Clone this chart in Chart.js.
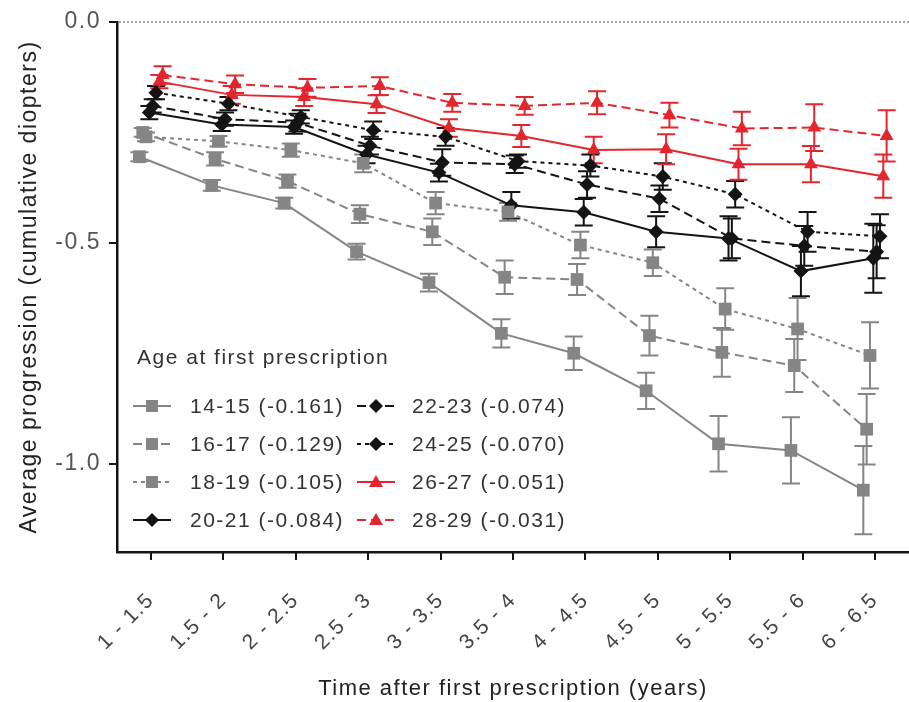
<!DOCTYPE html>
<html><head><meta charset="utf-8">
<script src="https://cdn.jsdelivr.net/npm/chart.js@4"></script>
<style>html,body{margin:0;padding:0;background:#fff;overflow:hidden}</style>
</head><body>
<canvas id="c" width="909" height="702"></canvas>
<script>
// ---------- data ----------
const xLabels = ['1 - 1.5','1.5 - 2','2 - 2.5','2.5 - 3','3 - 3.5','3.5 - 4','4 - 4.5','4.5 - 5','5 - 5.5','5.5 - 6','6 - 6.5'];
const ageGroups = ['14-15','16-17','18-19','20-21','22-23','24-25','26-27','28-29'];
const slopes = ['-0.161','-0.129','-0.105','-0.084','-0.074','-0.070','-0.051','-0.031'];
const yTicks = [-1.0, -0.5, 0.0];

const age14_15 = [-0.305, -0.37, -0.41, -0.52, -0.59, -0.705, -0.75, -0.835, -0.955, -0.97, -1.06];
const err14_15 = [0.01, 0.012, 0.012, 0.018, 0.02, 0.032, 0.038, 0.041, 0.063, 0.075, 0.10];
const age16_17 = [-0.25, -0.31, -0.36, -0.435, -0.475, -0.578, -0.583, -0.71, -0.748, -0.778, -0.922];
const err16_17 = [0.01, 0.015, 0.015, 0.02, 0.03, 0.038, 0.035, 0.045, 0.055, 0.06, 0.08];
const age18_19 = [-0.26, -0.27, -0.29, -0.32, -0.41, -0.43, -0.505, -0.545, -0.65, -0.695, -0.755];
const err18_19 = [0.01, 0.012, 0.015, 0.02, 0.025, 0.02, 0.03, 0.03, 0.047, 0.07, 0.075];
const age20_21 = [-0.205, -0.232, -0.238, -0.30, -0.341, -0.415, -0.431, -0.475, -0.49, -0.564, -0.535];
const err20_21 = [0.015, 0.015, 0.015, 0.02, 0.02, 0.03, 0.03, 0.035, 0.05, 0.057, 0.078];
const age22_23 = [-0.19, -0.22, -0.228, -0.28, -0.318, -0.322, -0.368, -0.40, -0.49, -0.507, -0.52];
const err22_23 = [0.015, 0.015, 0.02, 0.02, 0.03, 0.02, 0.03, 0.03, 0.045, 0.045, 0.06];
const age24_25 = [-0.16, -0.185, -0.215, -0.245, -0.26, -0.315, -0.325, -0.35, -0.39, -0.475, -0.485];
const err24_25 = [0.015, 0.015, 0.015, 0.02, 0.02, 0.015, 0.025, 0.03, 0.03, 0.045, 0.05];
const age26_27 = [-0.135, -0.165, -0.17, -0.186, -0.24, -0.258, -0.29, -0.288, -0.322, -0.322, -0.349];
const err26_27 = [0.015, 0.02, 0.02, 0.02, 0.02, 0.025, 0.03, 0.034, 0.035, 0.041, 0.049];
const age28_29 = [-0.12, -0.141, -0.149, -0.145, -0.183, -0.19, -0.183, -0.211, -0.241, -0.239, -0.258];
const err28_29 = [0.02, 0.02, 0.02, 0.02, 0.02, 0.02, 0.026, 0.028, 0.038, 0.053, 0.058];

// ---------- styles ----------
const GRAY = '#858585', BLACK = '#141414', RED = '#e3262d';
const FONT = '"Liberation Sans", Arial, Helvetica, sans-serif';
const SPACING = '1.5px';
const seriesValues = [age14_15, age16_17, age18_19, age20_21, age22_23, age24_25, age26_27, age28_29];
const seriesErrors = [err14_15, err16_17, err18_19, err20_21, err22_23, err24_25, err26_27, err28_29];
const styles = [
  {color: GRAY, dash: [], marker: 'square'},
  {color: GRAY, dash: [9, 5], marker: 'square'},
  {color: GRAY, dash: [4, 4], marker: 'square'},
  {color: BLACK, dash: [], marker: 'diamond'},
  {color: BLACK, dash: [9, 5], marker: 'diamond'},
  {color: BLACK, dash: [4, 4], marker: 'diamond'},
  {color: RED, dash: [], marker: 'triangle'},
  {color: RED, dash: [9, 5], marker: 'triangle'}
];
const STAGGER = 0.046; // horizontal stagger between series (category units)
const pointStyleMap = {square: 'rect', diamond: 'rectRot', triangle: 'triangle'};
const radiusMap = {square: 9, diamond: 7.5, triangle: 8};

const datasets = seriesValues.map((vals, s) => ({
  label: ageGroups[s] + ' (' + slopes[s] + ')',
  data: vals.map((v, i) => ({x: i + (s - 3.5) * STAGGER, y: v})),
  errors: seriesErrors[s],
  borderColor: styles[s].color,
  backgroundColor: styles[s].color,
  borderWidth: 2,
  borderDash: styles[s].dash,
  pointStyle: pointStyleMap[styles[s].marker],
  marker: styles[s].marker,
  pointRadius: radiusMap[styles[s].marker],
  pointBorderWidth: 0,
  pointBackgroundColor: styles[s].color,
  tension: 0
}));

function drawMarker(ctx, type, x, y, color) {
  ctx.save();
  ctx.fillStyle = color;
  ctx.beginPath();
  if (type === 'square') { ctx.rect(x - 6, y - 6, 12, 12); }
  else if (type === 'diamond') { ctx.moveTo(x, y - 7); ctx.lineTo(x + 7, y); ctx.lineTo(x, y + 7); ctx.lineTo(x - 7, y); ctx.closePath(); }
  else { ctx.moveTo(x, y - 7); ctx.lineTo(x + 7, y + 5); ctx.lineTo(x - 7, y + 5); ctx.closePath(); }
  ctx.fill();
  ctx.restore();
}

const textSpacing = {
  id: 'textSpacing',
  beforeUpdate(chart) { chart.ctx.letterSpacing = SPACING; },
  beforeDraw(chart) { chart.ctx.letterSpacing = SPACING; }
};

// short outward tick marks on the category axis (label offset comes from a transparent long tick)
const xTickMarks = {
  id: 'xTickMarks',
  afterDraw(chart) {
    const {ctx, scales} = chart;
    const x = scales.x;
    ctx.save();
    ctx.strokeStyle = BLACK;
    ctx.lineWidth = 2;
    x.ticks.forEach(t => {
      const px = Math.round(x.getPixelForValue(t.value));
      ctx.beginPath();
      ctx.moveTo(px, x.top);
      ctx.lineTo(px, x.top + 8);
      ctx.stroke();
    });
    ctx.restore();
  }
};

const zeroLine = {
  id: 'zeroLine',
  beforeDatasetsDraw(chart) {
    const {ctx, chartArea, scales} = chart;
    const y0 = scales.y.getPixelForValue(0);
    ctx.save();
    ctx.strokeStyle = '#8a8a8a';
    ctx.lineWidth = 1.5;
    ctx.setLineDash([2, 2]);
    ctx.beginPath();
    ctx.moveTo(chartArea.left + 2, y0);
    ctx.lineTo(chartArea.right, y0);
    ctx.stroke();
    ctx.restore();
  }
};

const errorBars = {
  id: 'errorBars',
  beforeDatasetsDraw(chart) {
    const {ctx, scales} = chart;
    chart.data.datasets.forEach((ds, di) => {
      const meta = chart.getDatasetMeta(di);
      ctx.save();
      ctx.strokeStyle = ds.borderColor;
      ctx.lineWidth = 2;
      ctx.setLineDash([]);
      meta.data.forEach((pt, i) => {
        const v = ds.data[i].y, e = ds.errors[i];
        const yt = scales.y.getPixelForValue(v + e), yb = scales.y.getPixelForValue(v - e);
        const w = 9;
        ctx.beginPath();
        ctx.moveTo(pt.x, yt); ctx.lineTo(pt.x, yb);
        ctx.moveTo(pt.x - w, yt); ctx.lineTo(pt.x + w, yt);
        ctx.moveTo(pt.x - w, yb); ctx.lineTo(pt.x + w, yb);
        ctx.stroke();
      });
      ctx.restore();
    });
  }
};

const legendBox = {
  id: 'legendBox',
  afterDatasetsDraw(chart) {
    const ctx = chart.ctx;
    ctx.save();
    ctx.letterSpacing = SPACING;
    ctx.textBaseline = 'middle';
    ctx.textAlign = 'left';
    ctx.fillStyle = '#333';
    ctx.font = '21px ' + FONT;
    ctx.fillText('Age at first prescription', 137, 358);
    chart.data.datasets.forEach((ds, i) => {
      const col = Math.floor(i / 4), row = i % 4;
      const x0 = col ? 357 : 133;
      const y = 406 + row * 38;
      ctx.strokeStyle = ds.borderColor;
      ctx.lineWidth = 2;
      ctx.setLineDash(ds.borderDash);
      ctx.beginPath(); ctx.moveTo(x0, y); ctx.lineTo(x0 + 38, y); ctx.stroke();
      ctx.setLineDash([]);
      drawMarker(ctx, ds.marker, x0 + 19, y, ds.borderColor);
      ctx.fillStyle = '#333';
      ctx.fillText(ds.label, col ? 412 : 190, y + 1);
    });
    ctx.restore();
  }
};

new Chart(document.getElementById('c'), {
  type: 'line',
  data: {datasets},
  plugins: [textSpacing, zeroLine, errorBars, legendBox, xTickMarks],
  options: {
    responsive: false,
    animation: false,
    devicePixelRatio: 1,
    layout: {autoPadding: false, padding: {top: 22, right: 0, left: 0, bottom: 0}},
    plugins: {legend: {display: false}, tooltip: {enabled: false}},
    scales: {
      x: {
        type: 'linear',
        min: -0.47, max: 10.47,
        afterBuildTicks: (s) => { s.ticks = xLabels.map((_, i) => ({value: i})); },
        afterFit: (s) => { s.height = 150; },
        ticks: {
          autoSkip: false, maxRotation: 45, minRotation: 45,
          padding: 0,
          color: '#444',
          font: {family: FONT, size: 21},
          callback: (v) => xLabels[v]
        },
        grid: {drawOnChartArea: false, drawTicks: true, tickLength: 36, tickColor: 'rgba(0,0,0,0)', lineWidth: 2},
        border: {color: BLACK, width: 2.5},
        title: {display: true, text: 'Time after first prescription (years)', color: '#222',
                font: {family: FONT, size: 22}, padding: {top: 0, bottom: 0}}
      },
      y: {
        type: 'linear',
        min: -1.2, max: 0,
        afterBuildTicks: (s) => { s.ticks = yTicks.map(v => ({value: v})); },
        afterFit: (s) => { s.width = 117; },
        ticks: {
          color: '#555',
          padding: 8,
          font: {family: FONT, size: 23},
          callback: (v) => Number(v).toFixed(1)
        },
        grid: {drawOnChartArea: false, drawTicks: true, tickLength: 8, color: BLACK, lineWidth: 2},
        border: {color: BLACK, width: 2.5},
        title: {display: true, text: 'Average progression (cumulative diopters)', color: '#222',
                font: {family: FONT, size: 23}, padding: {top: 16, bottom: 0}}
      }
    }
  }
});
</script>
</body></html>
